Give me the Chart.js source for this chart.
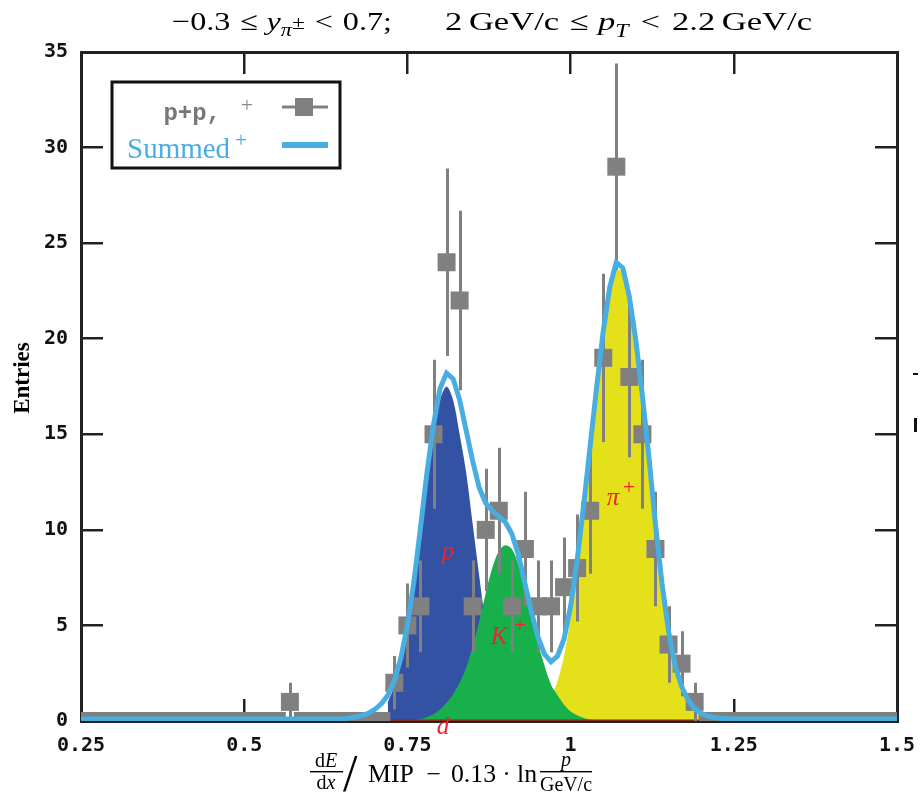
<!DOCTYPE html>
<html><head><meta charset="utf-8">
<script src="https://cdn.jsdelivr.net/npm/chart.js@4.4.1/dist/chart.umd.min.js"></script>
<style>html,body{margin:0;padding:0;background:#fff;}canvas{display:block;}</style>
</head><body>
<canvas id="c" width="924" height="806"></canvas>
<script>
// ---------- data ----------
const xTickValues = [0.25, 0.5, 0.75, 1, 1.25, 1.5];
const xTickLabels = ['0.25', '0.5', '0.75', '1', '1.25', '1.5'];
const yTickValues = [0, 5, 10, 15, 20, 25, 30, 35];
const yTickLabels = ['0', '5', '10', '15', '20', '25', '30', '35'];

// measured histogram (bin centres, entries, errors)
const binCenters = [0.25,0.27,0.29,0.31,0.33,0.35,0.37,0.39,0.41,0.43,0.45,0.47,0.49,0.51,0.53,0.55,
  0.57,0.59,0.61,0.63,0.65,0.67,0.69,0.71,0.73,0.75,0.77,0.79,0.81,0.83,0.85,0.87,0.89,0.91,0.93,0.95,
  0.97,0.99,1.01,1.03,1.05,1.07,1.09,1.11,1.13,1.15,1.17,1.19,1.21,1.23,1.25,1.27,1.29,1.31,1.33,1.35,
  1.37,1.39,1.41,1.43,1.45,1.47,1.49];
const entries = [0,0,0,0,0,0,0,0,0,0,0,0,0,0,0,0,
  1,0,0,0,0,0,0,0,2,5,6,15,24,22,6,10,11,6,9,6,
  6,7,8,11,19,29,18,15,9,4,3,1,0,0,0,0,0,0,0,0,
  0,0,0,0,0,0,0];
const entryErrors = [0,0,0,0,0,0,0,0,0,0,0,0,0,0,0,0,
  1.0,0,0,0,0,0,0,0,1.4,2.2,2.4,3.9,4.9,4.7,2.4,3.2,3.3,2.4,3.0,2.4,
  2.4,2.6,2.8,3.3,4.4,5.4,4.2,3.9,3.0,2.0,1.7,1.0,0,0,0,0,0,0,0,0,
  0,0,0,0,0,0,0];

// fitted components
const protonX = [0.72,0.73,0.74,0.75,0.76,0.77,0.78,0.79,0.80,0.81,0.82,0.83,0.84,0.85,0.86,0.87,0.88,0.89,0.90,0.91,0.92,0.93,0.94];
const protonY = [1.0,1.8,3.0,4.8,7.0,9.8,12.6,15.0,16.8,17.5,16.8,15.0,13.0,10.3,7.6,5.0,3.0,1.7,0.9,0.45,0.2,0.08,0.03];
const kaonX = [0.76,0.77,0.78,0.79,0.80,0.81,0.82,0.83,0.84,0.85,0.86,0.87,0.88,0.89,0.90,0.91,0.92,0.93,0.94,0.95,0.96,0.97,0.98,0.99,1.00,1.01,1.02,1.03,1.04,1.05];
const kaonY = [0.05,0.1,0.2,0.35,0.6,0.95,1.4,2.0,2.8,3.9,5.2,6.7,8.0,8.9,9.2,9.0,8.2,7.0,5.5,4.1,2.9,1.9,1.35,0.85,0.5,0.3,0.16,0.08,0.04,0.02];
const pionX = [0.93,0.94,0.95,0.96,0.97,0.98,0.99,1.00,1.01,1.02,1.03,1.04,1.05,1.06,1.07,1.08,1.09,1.10,1.11,1.12,1.13,1.14,1.15,1.16,1.17,1.18,1.19,1.20];
const pionY = [0.1,0.2,0.39,0.7,1.2,2.1,3.4,5.4,8.0,11.0,14.2,17.4,20.3,22.5,23.6,23.5,22.0,19.7,16.8,13.6,10.1,7.0,4.5,2.8,1.7,1.0,0.55,0.3];
const deuteronX = [0.72, 1.20];
const deuteronY = [0, 0];
const summedX = [0.25,0.30,0.35,0.40,0.45,0.50,0.55,0.60,0.65,0.66,0.67,0.68,0.69,0.70,0.71,0.72,0.73,0.74,0.75,0.76,0.77,0.78,0.79,
  0.80,0.81,0.82,0.83,0.84,0.85,0.86,0.87,0.88,0.89,0.90,0.91,0.92,0.93,0.94,0.95,0.96,0.97,0.98,0.99,1.00,1.01,1.02,1.03,1.04,
  1.05,1.06,1.07,1.08,1.09,1.10,1.11,1.12,1.13,1.14,1.15,1.16,1.17,1.18,1.19,1.20,1.21,1.22,1.23,1.25,1.30,1.35,1.40,1.45,1.50];
const summedY = [0.1,0.1,0.1,0.1,0.1,0.1,0.1,0.1,0.12,0.15,0.2,0.28,0.4,0.6,0.9,1.35,2.1,3.3,5.0,7.3,10.1,13.0,15.5,
  17.4,18.2,17.9,16.8,15.2,13.6,12.2,11.4,11.0,10.7,10.4,9.8,8.7,7.2,5.7,4.4,3.5,3.1,3.4,4.3,6.0,8.4,11.3,14.4,17.5,
  20.4,22.7,24.0,23.7,22.2,19.9,17.0,13.8,10.3,7.2,4.7,2.9,1.8,1.1,0.65,0.4,0.25,0.18,0.14,0.11,0.1,0.1,0.1,0.1,0.1];

// ---------- styling ----------
const SERIF = '"Liberation Serif", "DejaVu Serif", serif';
const C_SUM = '#48aee2', C_GRAY = '#808080', C_P = '#3452a4', C_K = '#17b04b', C_PI = '#e4e11b', C_D = '#8a2c1c', C_RED = '#e8262c';
const pts = (xs, ys) => xs.map((x, i) => ({x, y: ys[i]}));

const errorBarPlugin = {
  id: 'errbars',
  beforeDatasetDraw(chart, args) {
    if (chart.data.datasets[args.index].label !== 'p+p') return;
    const {ctx, chartArea: a, scales: {x, y}} = chart;
    ctx.save();
    ctx.beginPath(); ctx.rect(a.left, a.top, a.right - a.left, a.bottom - a.top); ctx.clip();
    ctx.strokeStyle = C_GRAY; ctx.lineWidth = 3; ctx.beginPath();
    binCenters.forEach((c, i) => {
      const e = entryErrors[i]; if (!e) return;
      const px = Math.round(x.getPixelForValue(c)) + 0.5;
      ctx.moveTo(px, y.getPixelForValue(entries[i] - e));
      ctx.lineTo(px, y.getPixelForValue(entries[i] + e));
    });
    ctx.stroke(); ctx.restore();
  }
};

// draw a run of text segments, optionally stretched to a target width
function rich(ctx, segs, x, y, align, targetW) {
  let total = 0;
  const ws = segs.map(s => { ctx.font = s.font; const w = ctx.measureText(s.t).width + (s.sp || 0); total += w; return w; });
  const k = targetW ? targetW / total : 1;
  const start = align === 'center' ? x - total * k / 2 : x;
  ctx.save();
  ctx.translate(start, y); ctx.scale(k, 1);
  ctx.textAlign = 'left';
  let cx = 0;
  segs.forEach((s, i) => { ctx.font = s.font; ctx.fillStyle = s.color || '#000'; ctx.fillText(s.t, cx, (s.dy || 0)); cx += ws[i]; });
  ctx.restore();
  return total * k;
}
const R = s => `${s}px ${SERIF}`;
const I = s => `italic ${s}px ${SERIF}`;

const decorPlugin = {
  id: 'decor',
  afterDraw(chart) {
    const {ctx, scales: {x, y}} = chart;
    ctx.save();
    ctx.textBaseline = 'alphabetic';
    // title, two halves
    rich(ctx, [
      {t: '\u22120.3', font: R(26), sp: 8}, {t: '\u2264', font: R(26), sp: 7}, {t: 'y', font: I(26)},
      {t: '\u03C0', font: I(18), dy: 6}, {t: '\u00B1', font: R(19), dy: -1, sp: 8},
      {t: '<', font: R(26), sp: 8}, {t: '0.7;', font: R(26)}
    ], 172, 30, 'left', 220);
    rich(ctx, [
      {t: '2', font: R(26), sp: 5}, {t: 'GeV/c', font: R(26), sp: 8}, {t: '\u2264', font: R(26), sp: 7},
      {t: 'p', font: I(26)}, {t: 'T', font: I(18), dy: 7, sp: 9},
      {t: '<', font: R(26), sp: 9}, {t: '2.2', font: R(26), sp: 5}, {t: 'GeV/c', font: R(26)}
    ], 445, 30, 'left', 367);

    // x-axis title
    ctx.fillStyle = '#000';
    rich(ctx, [{t: 'd', font: R(20)}, {t: 'E', font: I(20)}], 326, 767, 'center');
    rich(ctx, [{t: 'd', font: R(20)}, {t: 'x', font: I(20)}], 326, 789, 'center');
    ctx.fillRect(310, 771, 33, 1.4);
    ctx.font = R(52); ctx.textAlign = 'left'; ctx.fillText('/', 343, 791);
    rich(ctx, [
      {t: 'MIP', font: R(25), sp: 12}, {t: '\u2212', font: R(25), sp: 10}, {t: '0.13', font: R(25), sp: 6},
      {t: '\u00B7', font: R(25), sp: 6}, {t: 'ln', font: R(25)}
    ], 368, 782, 'left', 169);
    ctx.fillRect(540, 771, 52, 1.4);
    rich(ctx, [{t: 'p', font: I(20)}], 566, 766, 'center');
    rich(ctx, [{t: 'GeV/c', font: R(20)}], 566, 791, 'center', 52);

    // y-axis title
    ctx.save();
    ctx.translate(23, 378); ctx.rotate(-Math.PI / 2);
    ctx.font = `bold 23px ${SERIF}`; ctx.textAlign = 'center'; ctx.textBaseline = 'middle'; ctx.fillStyle = '#000';
    ctx.fillText('Entries', 0, 0);
    ctx.restore();

    // legend
    ctx.fillStyle = '#fff'; ctx.fillRect(112, 82, 228, 86);
    ctx.strokeStyle = '#111'; ctx.lineWidth = 3; ctx.strokeRect(112, 82, 228, 86);
    ctx.font = 'bold 24px "Liberation Mono", monospace'; ctx.fillStyle = '#777'; ctx.textAlign = 'right';
    ctx.fillText('p+p,', 221, 120);
    ctx.font = R(22); ctx.fillStyle = '#8a8a8a'; ctx.textAlign = 'center'; ctx.fillText('+', 247, 112);
    ctx.strokeStyle = C_GRAY; ctx.lineWidth = 3; ctx.beginPath(); ctx.moveTo(282, 107); ctx.lineTo(328, 107); ctx.stroke();
    ctx.fillStyle = C_GRAY; ctx.fillRect(295, 98, 18, 18);
    ctx.font = R(29); ctx.fillStyle = C_SUM; ctx.textAlign = 'left'; ctx.fillText('Summed', 127, 158);
    ctx.font = R(22); ctx.textAlign = 'center'; ctx.fillText('+', 241, 147);
    ctx.strokeStyle = C_SUM; ctx.lineWidth = 6; ctx.beginPath(); ctx.moveTo(282, 145); ctx.lineTo(328, 145); ctx.stroke();

    // component labels
    ctx.fillStyle = C_RED; ctx.textAlign = 'center'; ctx.textBaseline = 'middle';
    const lab = (t, vx, vy, sup, ox, oy) => {
      const px = x.getPixelForValue(vx), py = y.getPixelForValue(vy);
      ctx.font = I(25); ctx.fillText(t, px, py);
      if (sup) { ctx.font = R(22); ctx.fillText(sup, px + ox, py + oy); }
    };
    lab('p', 0.8122, 8.82);
    lab('K', 0.8903, 4.38, '+', 21, -11);
    lab('\u03C0', 1.0650, 11.63, '+', 16, -10);
    lab('d', 0.8045, -0.31);

    // fragments of the neighbouring panel at the right edge
    ctx.fillStyle = '#111';
    ctx.fillRect(913, 373, 5, 2);
    ctx.fillRect(914, 418, 3, 14);
    ctx.restore();
  }
};

const tickFont = {family: '"DejaVu Sans Mono", monospace', size: 20, weight: 'bold'};
const gridOpts = {drawOnChartArea: false, drawTicks: true, tickLength: -22, color: '#222', lineWidth: 2.5};
const borderOpts = {display: true, color: '#222', width: 3};
const setX = s => { s.ticks = xTickValues.map(v => ({value: v})); };
const setY = s => { s.ticks = yTickValues.map(v => ({value: v})); };
const noPad = s => { s.paddingLeft = 0; s.paddingRight = 0; s.paddingTop = 0; s.paddingBottom = 0; };

new Chart(document.getElementById('c'), {
  type: 'line',
  data: {
    datasets: [
      {label: 'Summed', data: pts(summedX, summedY), borderColor: C_SUM, borderWidth: 5, pointRadius: 0, fill: false, tension: 0, order: 0},
      {label: 'p+p', data: pts(binCenters, entries), showLine: false, pointStyle: 'rect', pointRadius: 12.73,
        pointBackgroundColor: C_GRAY, pointBorderWidth: 0, pointBorderColor: 'rgba(0,0,0,0)', clip: 0, order: 1},
      {label: 'd', data: pts(deuteronX, deuteronY), borderColor: C_D, borderWidth: 3, pointRadius: 0, fill: false, order: 2},
      {label: 'K+', data: pts(kaonX, kaonY), borderColor: 'rgba(0,0,0,0)', borderWidth: 0, backgroundColor: C_K, pointRadius: 0, fill: 'origin', tension: 0.3, order: 3},
      {label: 'p', data: pts(protonX, protonY), borderColor: 'rgba(0,0,0,0)', borderWidth: 0, backgroundColor: C_P, pointRadius: 0, fill: 'origin', tension: 0.3, order: 4},
      {label: 'pi+', data: pts(pionX, pionY), borderColor: 'rgba(0,0,0,0)', borderWidth: 0, backgroundColor: C_PI, pointRadius: 0, fill: 'origin', tension: 0.3, order: 5}
    ]
  },
  options: {
    responsive: false, animation: false, devicePixelRatio: 1,
    layout: {padding: 0},
    plugins: {legend: {display: false}, tooltip: {enabled: false}, title: {display: false}},
    scales: {
      x: {type: 'linear', position: 'bottom', min: 0.25, max: 1.5, afterBuildTicks: setX,
        ticks: {callback: (v, i) => xTickLabels[i], font: tickFont, color: '#111', padding: 35, maxRotation: 0, minRotation: 0, autoSkip: false},
        grid: gridOpts, border: borderOpts, afterFit: s => { s.height = 85; noPad(s); }},
      x2: {type: 'linear', position: 'top', min: 0.25, max: 1.5, afterBuildTicks: setX, ticks: {display: false},
        grid: gridOpts, border: borderOpts, afterFit: s => { s.height = 52; noPad(s); }},
      y: {type: 'linear', position: 'left', min: 0, max: 35, afterBuildTicks: setY,
        ticks: {callback: (v, i) => yTickLabels[i], font: tickFont, color: '#111', padding: 35},
        grid: gridOpts, border: borderOpts, afterFit: s => { s.width = 81; noPad(s); }, z: 1},
      y2: {type: 'linear', position: 'right', min: 0, max: 35, afterBuildTicks: setY, ticks: {display: false},
        grid: gridOpts, border: borderOpts, afterFit: s => { s.width = 27; noPad(s); }, z: 1}
    }
  },
  plugins: [errorBarPlugin, decorPlugin]
});
</script>
</body></html>
